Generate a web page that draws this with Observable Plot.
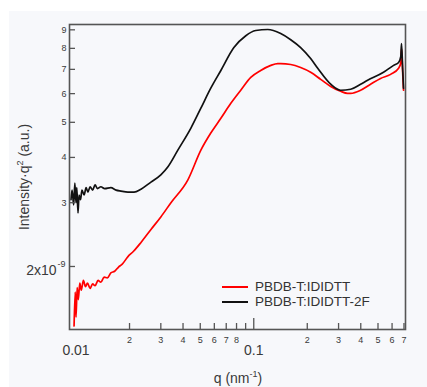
<!DOCTYPE html>
<html><head><meta charset="utf-8">
<script src="https://cdn.jsdelivr.net/npm/d3@7"></script>
<script src="https://cdn.jsdelivr.net/npm/@observablehq/plot@0.6"></script>
<style>
html,body{margin:0;padding:0;background:#fff;}
body{width:427px;height:387px;position:relative;overflow:hidden;font-family:"Liberation Sans",Arial,sans-serif;color:#3a3a3a;}
#panel{position:absolute;left:9px;top:11px;right:0;bottom:0;background:#f7f8fb;}
#chart{position:absolute;left:0;top:0;}
.ttl{position:absolute;font-size:14px;line-height:16px;white-space:nowrap;color:#3a3a3a;}
.sup{position:relative;top:-6px;font-size:9px;}
#legend{position:absolute;left:222px;top:279px;font-size:13.5px;line-height:15px;color:#333;}
#legend .row{display:flex;align-items:center;height:15px;}
#legend .sw{width:26px;height:2px;margin-right:7px;}
</style></head>
<body>
<div id="panel"></div>
<div id="chart"></div>
<div class="ttl" id="ylab" style="left:-75px;top:168px;width:200px;text-align:center;transform:rotate(-90deg);">Intensity·q<span class="sup">2</span> (a.u.)</div>
<div class="ttl" id="xlab" style="left:188px;top:370px;width:100px;text-align:center;">q (nm<span class="sup">-1</span>)</div>
<div id="legend"></div>
<script>
// Series names and colours
const seriesNames = ["PBDB-T:IDIDTT", "PBDB-T:IDIDTT-2F"];
const seriesColors = ["#ff0000", "#111111"];

// PBDB-T:IDIDTT (red) — q in nm^-1, intensity·q² in units of 1e-9
const redQ = [0.00975,0.0099,0.0100,0.01015,0.0103,0.0105,0.0107,0.0110,0.0113,0.0116,0.0120,0.0124,0.0128,0.0133,0.0138,0.0144,0.0150,0.0157,0.0165,0.0173,0.0182,0.0196,0.0210,0.0232,0.0264,0.0300,0.0342,0.0426,0.0504,0.0573,0.0653,0.0743,0.0845,0.0962,0.1094,0.1247,0.1364,0.1418,0.1614,0.1836,0.209,0.238,0.271,0.308,0.337,0.351,0.399,0.454,0.517,0.589,0.653,0.672,0.678,0.687,0.696];
const redI = [1.37,1.70,1.45,1.75,1.62,1.80,1.72,1.83,1.76,1.80,1.74,1.79,1.77,1.83,1.81,1.87,1.86,1.92,1.94,1.99,2.03,2.13,2.20,2.33,2.53,2.74,3.00,3.47,4.19,4.67,5.13,5.64,6.13,6.65,6.95,7.18,7.26,7.26,7.22,7.08,6.87,6.57,6.28,6.09,6.01,6.01,6.13,6.37,6.61,6.78,7.05,7.3,8.0,7.0,6.13];

// PBDB-T:IDIDTT-2F (black)
const blackQ = [0.00937,0.0095,0.0097,0.00985,0.0100,0.0101,0.01026,0.0104,0.0106,0.0108,0.0111,0.0114,0.01167,0.0120,0.0124,0.0128,0.0132,0.0138,0.0145,0.0157,0.0168,0.0179,0.0196,0.0212,0.0232,0.0264,0.0300,0.0329,0.0374,0.0443,0.0504,0.0573,0.0653,0.0773,0.0902,0.1026,0.1199,0.1418,0.1614,0.1836,0.209,0.229,0.271,0.308,0.351,0.399,0.437,0.537,0.612,0.653,0.672,0.678,0.687,0.696];
const blackI = [3.06,3.25,2.96,3.40,3.00,3.30,2.81,3.15,3.06,3.25,3.15,3.30,3.21,3.32,3.25,3.36,3.28,3.32,3.28,3.30,3.25,3.23,3.21,3.21,3.27,3.42,3.58,3.77,4.19,4.82,5.47,6.21,6.95,8.04,8.67,8.96,9.02,8.79,8.45,8.04,7.50,7.05,6.37,6.13,6.17,6.37,6.53,6.87,7.18,7.31,7.6,8.25,7.2,6.21];

// Tick values and labels
const xMinorTicks = [0.02,0.03,0.04,0.05,0.06,0.07,0.08,0.09,0.2,0.3,0.4,0.5,0.6,0.7];
const xMinorLabels = ["2","3","4","5","6","7","8","","2","3","4","5","6","7"];
const xMajorTicks = [0.01, 0.1];
const xMajorLabels = ["0.01", "0.1"];
const yMinorTicks = [3,4,5,6,7,8,9];
const yMinorLabels = ["3","4","5","6","7","8","9"];
const yMajorTick = [2];
const yMajorLabel = "2x10";
const yMajorExp = "-9";

const xDomain = [0.00919, 0.714];
const yDomain = [1.34, 9.31];

const red = redQ.map((q, i) => ({q, I: redI[i]}));
const black = blackQ.map((q, i) => ({q, I: blackI[i]}));

const tickStyle = {stroke: "#555", strokeWidth: 1.3, fill: "none", label: null};

const chart = Plot.plot({
  width: 427, height: 387,
  marginLeft: 69, marginRight: 22, marginTop: 24, marginBottom: 58,
  style: {background: "transparent", fontFamily: "Liberation Sans, Arial, sans-serif", color: "#3a3a3a", overflow: "visible"},
  x: {type: "log", domain: xDomain},
  y: {type: "log", domain: yDomain},
  marks: [
    Plot.line(red, {x: "q", y: "I", stroke: seriesColors[0], strokeWidth: 1.7, curve: "monotone-x"}),
    Plot.line(black, {x: "q", y: "I", stroke: seriesColors[1], strokeWidth: 1.7, curve: "monotone-x"}),
    Plot.frame({stroke: "#555", strokeWidth: 1.6}),
    // x ticks (inward)
    Plot.axisX(xMinorTicks, {anchor: "bottom", tickSize: -6, ...tickStyle}),
    Plot.axisX([0.1], {anchor: "bottom", tickSize: -11, ...tickStyle}),
    // x tick labels
    Plot.text(xMinorTicks, {x: d => d, frameAnchor: "bottom", lineAnchor: "top", dy: 7, text: (d, i) => xMinorLabels[i], fontSize: 9, fill: "#3a3a3a"}),
    Plot.text(xMajorTicks, {x: d => d, frameAnchor: "bottom", lineAnchor: "top", dy: 16, text: (d, i) => xMajorLabels[i], fontSize: 14, fill: "#3a3a3a"}),
    // y ticks (inward)
    Plot.axisY(yMinorTicks, {anchor: "left", tickSize: -6, ...tickStyle}),
    Plot.axisY(yMajorTick, {anchor: "left", tickSize: -6, ...tickStyle}),
    // y tick labels
    Plot.text(yMinorTicks, {y: d => d, frameAnchor: "left", textAnchor: "end", dx: -3, text: (d, i) => yMinorLabels[i], fontSize: 9, fill: "#3a3a3a"}),
    Plot.text(yMajorTick, {y: d => d, frameAnchor: "left", textAnchor: "end", dx: -13, dy: 4, text: () => yMajorLabel, fontSize: 14, fill: "#3a3a3a"}),
    Plot.text(yMajorTick, {y: d => d, frameAnchor: "left", textAnchor: "start", dx: -12, dy: -2, text: () => yMajorExp, fontSize: 9, fill: "#3a3a3a"})
  ]
});
document.getElementById("chart").appendChild(chart);

const legend = document.getElementById("legend");
seriesNames.forEach((name, i) => {
  const row = document.createElement("div");
  row.className = "row";
  const sw = document.createElement("span");
  sw.className = "sw";
  sw.style.background = seriesColors[i];
  const t = document.createElement("span");
  t.textContent = name;
  row.appendChild(sw); row.appendChild(t);
  legend.appendChild(row);
});
</script>
</body></html>
